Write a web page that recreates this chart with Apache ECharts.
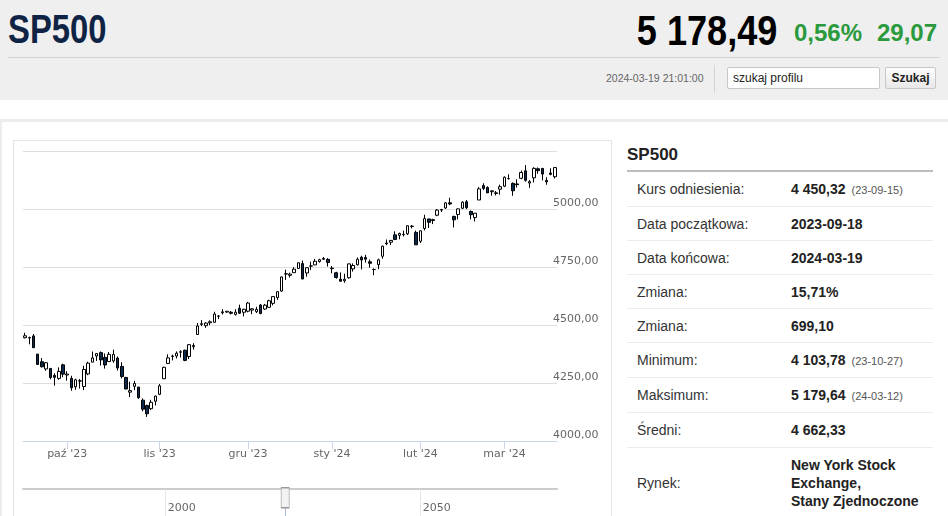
<!DOCTYPE html>
<html><head><meta charset="utf-8">
<script src="https://cdn.jsdelivr.net/npm/echarts@6/dist/echarts.min.js"></script>
<style>
html,body{margin:0;padding:0;width:948px;height:516px;overflow:hidden;background:#fff;font-family:"Liberation Sans",Arial,sans-serif;}
.abs{position:absolute;white-space:nowrap;}
.narrow{font-family:"Liberation Sans",Arial,sans-serif;font-weight:bold;}
#hdr{position:absolute;left:0;top:0;width:948px;height:100px;background:#efefef;}
.row{display:flex;align-items:center;border-bottom:1px solid #ececec;box-sizing:border-box;font-size:14px;}
.lab{width:164px;padding-left:10px;box-sizing:border-box;color:#333;}
.val{font-weight:bold;color:#222;}
.sm{font-size:11px;font-weight:normal;color:#555;margin-left:6px;}
</style></head>
<body>
<div id="hdr">
  <div class="abs narrow" style="left:8px;top:9px;font-size:41px;line-height:40px;color:#0f2445;transform:scaleX(0.8);transform-origin:0 0;">SP500</div>
  <div class="abs narrow" style="right:171px;top:9px;font-size:43px;line-height:43px;color:#000;transform:scaleX(0.84);transform-origin:100% 0;">5 178,49</div>
  <div class="abs" style="left:794px;top:21px;font-size:24px;line-height:24px;font-weight:bold;color:#2a9a3c;">0,56%</div>
  <div class="abs" style="left:877px;top:21px;font-size:24px;line-height:24px;font-weight:bold;color:#2a9a3c;">29,07</div>
  <div class="abs" style="left:8px;top:57px;width:932px;height:1px;background:#d4d4d4;"></div>
  <div class="abs" style="left:606px;top:72px;font-size:10.5px;line-height:12px;color:#666;">2024-03-19 21:01:00</div>
  <div class="abs" style="left:714px;top:65px;width:1px;height:28px;background:#d4d4d4;"></div>
  <div class="abs" style="left:727px;top:67px;width:153px;height:22px;box-sizing:border-box;border:1px solid #c8c8c8;border-radius:2px;background:#fff;font-size:12px;line-height:20px;padding-left:5px;color:#222;">szukaj profilu</div>
  <div class="abs" style="left:885px;top:67px;width:51px;height:22px;box-sizing:border-box;border:1px solid #c8c8c8;border-radius:2px;background:linear-gradient(#fdfdfd,#e8e8e8);font-size:12px;line-height:20px;font-weight:bold;text-align:center;color:#222;">Szukaj</div>
</div>
<div class="abs" style="left:0;top:119px;width:948px;height:3px;background:#ececec;"></div>
<div class="abs" style="left:0;top:119px;width:2px;height:400px;background:#ececec;"></div>
<div class="abs" style="left:13px;top:140px;width:599px;height:390px;box-sizing:border-box;border:1px solid #e4e4e4;"></div>
<div id="chart" class="abs" style="left:14px;top:141px;width:597px;height:375px;"></div>

<div class="abs" style="left:627px;top:145px;font-size:17px;line-height:20px;font-weight:bold;color:#222;">SP500</div>
<div class="abs" style="left:627px;top:170px;width:306px;height:2px;background:#bdbdbd;"></div>
<div class="abs" style="left:627px;top:172px;width:306px;">
  <div class="row" style="height:35px;"><div class="lab">Kurs odniesienia:</div><div class="val">4 450,32<span class="sm">(23-09-15)</span></div></div>
  <div class="row" style="height:34px;"><div class="lab">Data początkowa:</div><div class="val">2023-09-18</div></div>
  <div class="row" style="height:34px;"><div class="lab">Data końcowa:</div><div class="val">2024-03-19</div></div>
  <div class="row" style="height:34px;"><div class="lab">Zmiana:</div><div class="val">15,71%</div></div>
  <div class="row" style="height:34px;"><div class="lab">Zmiana:</div><div class="val">699,10</div></div>
  <div class="row" style="height:35px;"><div class="lab">Minimum:</div><div class="val">4 103,78<span class="sm">(23-10-27)</span></div></div>
  <div class="row" style="height:35px;"><div class="lab">Maksimum:</div><div class="val">5 179,64<span class="sm">(24-03-12)</span></div></div>
  <div class="row" style="height:35px;"><div class="lab">Średni:</div><div class="val">4 662,33</div></div>
  <div class="row" style="height:70px;border-bottom:none;"><div class="lab">Rynek:</div><div class="val" style="line-height:18px;">New York Stock<br>Exchange,<br>Stany Zjednoczone</div></div>
</div>

<script>
const dates = [
'2023-09-18','2023-09-19','2023-09-20','2023-09-21','2023-09-22','2023-09-25','2023-09-26','2023-09-27','2023-09-28','2023-09-29',
'2023-10-02','2023-10-03','2023-10-04','2023-10-05','2023-10-06','2023-10-09','2023-10-10','2023-10-11','2023-10-12','2023-10-13','2023-10-16','2023-10-17','2023-10-18','2023-10-19','2023-10-20','2023-10-23','2023-10-24','2023-10-25','2023-10-26','2023-10-27','2023-10-30','2023-10-31',
'2023-11-01','2023-11-02','2023-11-03','2023-11-06','2023-11-07','2023-11-08','2023-11-09','2023-11-10','2023-11-13','2023-11-14','2023-11-15','2023-11-16','2023-11-17','2023-11-20','2023-11-21','2023-11-22','2023-11-24','2023-11-27','2023-11-28','2023-11-29','2023-11-30',
'2023-12-01','2023-12-04','2023-12-05','2023-12-06','2023-12-07','2023-12-08','2023-12-11','2023-12-12','2023-12-13','2023-12-14','2023-12-15','2023-12-18','2023-12-19','2023-12-20','2023-12-21','2023-12-22','2023-12-26','2023-12-27','2023-12-28','2023-12-29',
'2024-01-02','2024-01-03','2024-01-04','2024-01-05','2024-01-08','2024-01-09','2024-01-10','2024-01-11','2024-01-12','2024-01-16','2024-01-17','2024-01-18','2024-01-19','2024-01-22','2024-01-23','2024-01-24','2024-01-25','2024-01-26','2024-01-29','2024-01-30','2024-01-31',
'2024-02-01','2024-02-02','2024-02-05','2024-02-06','2024-02-07','2024-02-08','2024-02-09','2024-02-12','2024-02-13','2024-02-14','2024-02-15','2024-02-16','2024-02-20','2024-02-21','2024-02-22','2024-02-23','2024-02-26','2024-02-27','2024-02-28','2024-02-29',
'2024-03-01','2024-03-04','2024-03-05','2024-03-06','2024-03-07','2024-03-08','2024-03-11','2024-03-12','2024-03-13','2024-03-14','2024-03-15','2024-03-18','2024-03-19'
];
const openP = [
4445.1,4445.4,4452.8,4374.4,4341.7,4310.6,4312.9,4282.6,4269.7,4328.2,
4284.5,4269.8,4233.8,4259.3,4234.8,4289.0,4339.8,4366.6,4380.9,4360.5,4342.4,4345.2,4357.4,4321.4,4273.9,4210.4,4235.8,4232.4,4176.0,4152.9,4139.4,4171.3,
4201.3,4268.3,4334.2,4364.3,4366.2,4384.4,4391.4,4364.2,4406.7,4459.0,4505.3,4497.1,4509.6,4511.7,4538.8,4553.0,4555.8,4554.9,4545.6,4571.8,4554.9,
4559.4,4564.4,4557.3,4586.2,4568.8,4576.2,4593.4,4618.3,4646.2,4721.0,4714.2,4725.6,4743.7,4764.7,4724.3,4753.9,4758.9,4773.5,4786.4,4782.9,
4745.2,4725.1,4697.4,4690.6,4703.7,4741.9,4759.9,4792.1,4791.2,4772.4,4739.1,4760.1,4796.3,4853.4,4856.8,4888.6,4886.7,4888.9,4893.0,4925.9,4899.2,
4861.1,4916.1,4957.2,4950.2,4973.1,4995.2,5004.2,5026.8,4967.9,4976.4,5003.1,5031.1,4989.3,4963.0,5038.8,5100.9,5093.0,5074.6,5067.2,5085.4,
5098.5,5131.0,5110.5,5108.0,5132.4,5164.5,5112.0,5134.3,5173.5,5175.1,5123.3,5154.8,5139.1
];
const closeP = [
4453.5,4444.0,4402.2,4330.0,4320.1,4337.4,4273.5,4274.5,4299.7,4288.1,
4288.4,4229.5,4263.8,4258.2,4308.5,4335.7,4358.2,4377.0,4349.6,4327.8,4373.6,4373.2,4314.6,4278.0,4224.2,4217.0,4247.7,4186.8,4137.2,4117.4,4166.8,4193.8,
4237.9,4317.8,4358.3,4366.0,4378.4,4382.8,4347.4,4415.2,4411.6,4495.7,4502.9,4508.2,4514.0,4547.4,4538.2,4556.6,4559.3,4550.4,4554.9,4550.6,4567.8,
4594.6,4569.8,4567.2,4549.3,4585.6,4604.4,4622.4,4643.7,4707.1,4719.6,4719.2,4740.6,4768.4,4698.4,4746.8,4754.6,4774.8,4781.6,4783.4,4769.8,
4742.8,4704.8,4688.7,4697.2,4763.5,4756.5,4783.5,4780.2,4783.8,4766.0,4739.2,4780.9,4839.8,4850.4,4864.6,4868.6,4894.2,4891.0,4927.9,4925.0,4845.7,
4906.2,4958.6,4942.8,4954.2,4995.1,4997.9,5026.6,5021.8,4953.2,5000.6,5029.7,5005.6,4975.5,4981.8,5087.0,5088.8,5069.5,5078.2,5069.8,5096.3,
5137.1,5131.0,5078.7,5104.8,5157.4,5123.7,5117.9,5175.3,5165.3,5150.5,5117.1,5149.4,5178.5
];
const lowP = [
4442.1,4416.6,4401.4,4329.2,4316.5,4302.7,4266.0,4238.6,4264.4,4274.9,
4260.2,4216.5,4220.5,4225.9,4219.6,4283.8,4339.6,4345.3,4325.4,4312.0,4342.4,4337.5,4303.8,4269.7,4223.0,4189.2,4219.4,4181.4,4127.9,4103.8,4132.9,4153.1,
4197.7,4268.3,4334.2,4347.5,4355.4,4359.8,4343.9,4353.3,4393.8,4459.0,4495.3,4487.8,4499.7,4510.4,4525.5,4545.1,4552.8,4545.5,4540.5,4547.2,4537.2,
4554.7,4546.7,4551.7,4546.5,4565.2,4574.1,4584.7,4608.1,4643.2,4694.3,4704.7,4725.6,4743.7,4697.8,4708.4,4736.8,4758.5,4768.9,4781.0,4752.0,
4722.7,4699.7,4687.5,4682.1,4699.8,4730.4,4756.2,4739.6,4769.0,4747.1,4714.8,4740.6,4785.9,4844.1,4844.4,4865.9,4869.3,4881.5,4887.4,4916.3,4845.2,
4853.5,4908.0,4918.1,4934.9,4969.1,4987.1,5000.3,5016.8,4920.3,4955.0,4999.4,4999.5,4955.0,4946.0,5038.8,5081.5,5068.9,5057.3,5058.4,5061.9,
5094.2,5127.2,5056.8,5092.2,5128.2,5117.5,5091.1,5114.5,5151.9,5123.3,5104.4,5145.5,5131.6
];
const highP = [
4466.4,4449.9,4461.0,4375.7,4357.4,4338.5,4313.0,4292.1,4317.3,4333.2,
4300.6,4281.2,4268.5,4267.1,4324.1,4341.7,4385.5,4378.6,4385.9,4377.1,4383.3,4393.6,4364.2,4339.5,4276.6,4255.8,4259.4,4232.4,4183.6,4156.7,4177.5,4195.6,
4245.6,4319.7,4373.6,4372.2,4386.3,4391.2,4393.4,4418.0,4421.8,4508.7,4521.2,4512.0,4520.1,4557.1,4542.1,4568.4,4560.3,4560.4,4568.1,4587.6,4569.9,
4599.4,4572.4,4578.6,4590.7,4590.9,4609.2,4622.8,4643.9,4709.7,4738.6,4725.5,4749.5,4768.7,4778.0,4748.7,4772.9,4784.7,4785.4,4793.3,4788.4,
4754.3,4729.3,4726.8,4721.5,4764.5,4765.5,4790.8,4798.5,4802.4,4782.3,4744.2,4785.8,4842.1,4868.4,4866.5,4903.7,4898.2,4906.7,4929.3,4931.1,4906.8,
4907.0,4975.3,4957.2,4957.8,4999.9,5000.4,5030.1,5048.4,4971.3,5002.5,5032.7,5038.7,4993.7,4983.2,5094.4,5111.1,5097.7,5080.7,5077.4,5105.0,
5140.3,5149.7,5114.5,5128.0,5165.6,5189.3,5124.7,5179.9,5179.1,5176.9,5136.9,5175.6,5180.3
];
const monthNames = ['sty','lut','mar','kwi','maj','cze','lip','sie','wrz','paź','lis','gru'];
const yRange = [4000, 5250];
const yStep = 250;
const navRange = [1972.2, 2076.9];
const navTicks = [2000, 2050];
const navHandle = 2023.6;

function isMonthStart(i){ return i > 0 && dates[i].slice(0,7) !== dates[i-1].slice(0,7); }
const candleData = dates.map((d,i) => [openP[i], closeP[i], lowP[i], highP[i]]);
const axisFont = {color:'#666', fontSize:11, fontFamily:'DejaVu Sans'};

const chart = echarts.init(document.getElementById('chart'));
chart.setOption({
  animation:false,
  grid:[{left:9,right:54,top:10,height:290},{left:9,right:54,top:348,height:40}],
  xAxis:[{
    type:'category', data:dates, gridIndex:0, boundaryGap:true,
    axisLine:{show:true,lineStyle:{color:'#ccd6eb',width:1}},
    axisTick:{show:true,alignWithLabel:true,interval:(i)=>isMonthStart(i),length:8,lineStyle:{color:'#ccd6eb'}},
    axisLabel:Object.assign({interval:(i)=>isMonthStart(i),margin:8,
      formatter:(v)=>monthNames[parseInt(v.slice(5,7),10)-1]+" '"+v.slice(2,4)}, axisFont),
    splitLine:{show:false}
  },{
    type:'value', gridIndex:1, position:'top', min:navRange[0], max:navRange[1],
    axisLine:{show:true,onZero:false,lineStyle:{color:'#cccccc',width:2}},
    axisTick:{show:false}, splitLine:{show:false},
    axisLabel:Object.assign({inside:true,customValues:navTicks,align:'left',padding:[0,0,0,3],margin:14,
      formatter:(v)=>String(v)}, axisFont)
  }],
  yAxis:[{
    type:'value', gridIndex:0, position:'right', min:yRange[0], max:yRange[1], interval:yStep,
    axisLine:{show:false}, axisTick:{show:false},
    splitLine:{lineStyle:{color:'#dedede',width:1}},
    axisLabel:Object.assign({showMaxLabel:false,align:'left',verticalAlign:'bottom',margin:-4,
      formatter:(v)=> v === yRange[1] ? '' : v.toFixed(2).replace('.',',')}, axisFont)
  },{
    type:'value', gridIndex:1, min:0, max:40, inverse:true, show:false
  }],
  series:[{
    type:'candlestick', data:candleData, xAxisIndex:0, yAxisIndex:0, barWidth:'72%',
    itemStyle:{color:'#ffffff',color0:'#0c2a4e',borderColor:'#000',borderColor0:'#000',borderColorDoji:'#000',borderWidth:1}
  },{
    type:'line', xAxisIndex:1, yAxisIndex:1, data:[], silent:true,
    markLine:{silent:true,symbol:['none','none'],label:{show:false},animation:false,
      data:navTicks.map(v=>({xAxis:v,lineStyle:{color:'#e6e6e6',width:1,type:'solid'}}))
        .concat([{xAxis:navHandle,lineStyle:{color:'#a9bcd9',width:1,type:'solid'}}])},
    markPoint:{silent:true,label:{show:false},
      data:[{coord:[navHandle,13],symbol:'rect',symbolSize:[8,20],itemStyle:{color:'#f2f2f2',borderColor:'#999',borderWidth:1}}]}
  }]
});
</script>
</body></html>
